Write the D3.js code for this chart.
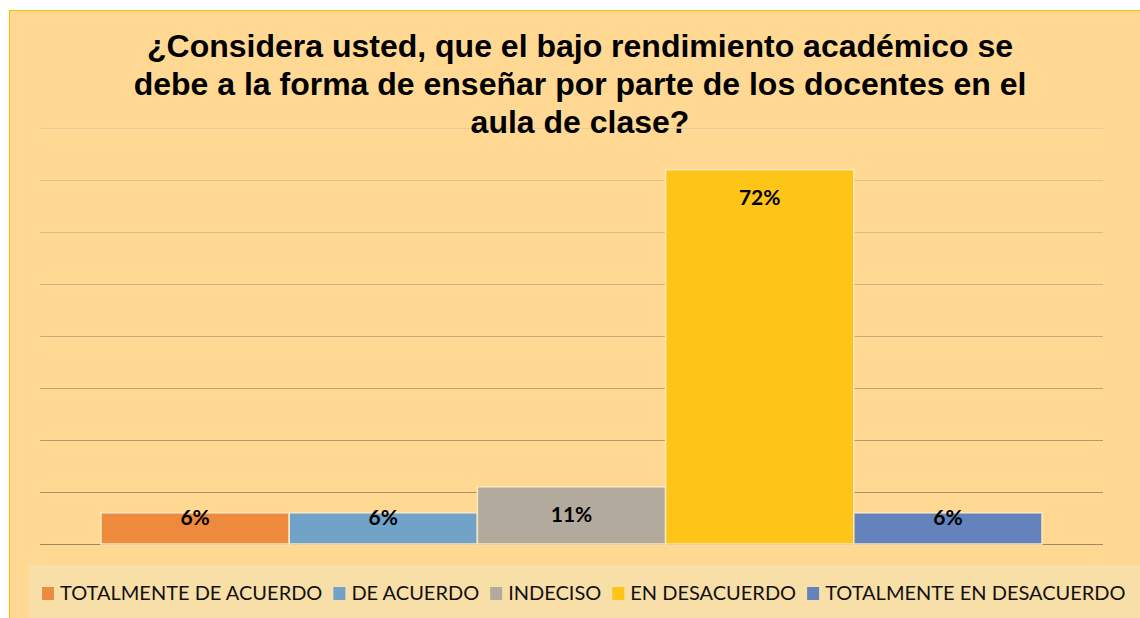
<!DOCTYPE html>
<html>
<head>
<meta charset="utf-8">
<script src="https://cdn.jsdelivr.net/npm/d3@7"></script>
<style>
  body { margin: 0; background: #fff; }
  svg { display: block; }
</style>
</head>
<body>
<svg id="chart" width="1140" height="618"></svg>
<script>
const categories = ['TOTALMENTE DE ACUERDO', 'DE ACUERDO', 'INDECISO', 'EN DESACUERDO', 'TOTALMENTE EN DESACUERDO'];
const values = [6, 6, 11, 72, 6];
const colors = ['#EE8A3E', '#71A3C9', '#B2AA9C', '#FFC418', '#6482BB'];
const yTicks = [0, 10, 20, 30, 40, 50, 60, 70, 80];
const titleLines = [
  '¿Considera usted, que el bajo rendimiento académico se',
  'debe a la forma de enseñar por parte de los docentes en el',
  'aula de clase?'
];

const svg = d3.select('#chart');
const width = 1140, height = 618;
const plot = {left: 40, right: 1103, top: 128, bottom: 544};

// chart area
svg.append('rect')
  .attr('x', 9.5).attr('y', 10.5)
  .attr('width', width).attr('height', height)
  .attr('fill', '#FFD993')
  .attr('stroke', '#FFC000')
  .attr('stroke-width', 1);

const y = d3.scaleLinear()
  .domain([0, 80])
  .range([plot.bottom, plot.top]);

const x = d3.scaleBand()
  .domain(categories)
  .range([plot.left + 61, plot.right - 61])
  .padding(0);

const gridColor = d3.interpolateRgb('#a08a5c', '#e6cc98');

svg.append('g')
  .selectAll('line')
  .data(yTicks)
  .join('line')
    .attr('x1', plot.left).attr('x2', plot.right)
    .attr('y1', d => Math.round(y(d)) + 0.5)
    .attr('y2', d => Math.round(y(d)) + 0.5)
    .attr('stroke', d => gridColor(d / 80))
    .attr('stroke-width', 1);

// title (drawn over the top gridline)
svg.append('g')
  .selectAll('text')
  .data(titleLines)
  .join('text')
    .attr('x', 580)
    .attr('y', (d, i) => 57 + i * 38)
    .attr('text-anchor', 'middle')
    .style('font-family', '"Liberation Sans", Arial, sans-serif')
    .style('font-weight', 'bold')
    .style('font-size', '32px')
    .text(d => d);

svg.append('g')
  .selectAll('rect')
  .data(values)
  .join('rect')
    .attr('x', (d, i) => x(categories[i]))
    .attr('y', d => y(d))
    .attr('width', x.bandwidth())
    .attr('height', d => y(0) - y(d))
    .attr('fill', (d, i) => colors[i])
    .attr('stroke', '#FBE7BE')
    .attr('stroke-width', 1.5);

// labels sit near the inside end, pushed up when the bar is short
svg.append('g')
  .selectAll('text')
  .data(values)
  .join('text')
    .attr('x', (d, i) => x(categories[i]) + x.bandwidth() / 2)
    .attr('y', d => {
      const h = y(0) - y(d);
      return y(d) + Math.min(28, h - 26);
    })
    .attr('dy', '0.35em')
    .attr('text-anchor', 'middle')
    .style('font-family', 'Lato, "Open Sans", sans-serif')
    .style('font-weight', 'bold')
    .style('font-size', '21px')
    .attr('fill', '#000')
    .text(d => d + '%');

// legend
svg.append('rect')
  .attr('x', 29).attr('y', 565)
  .attr('width', width - 29).attr('height', 53)
  .attr('fill', '#F8DFA8');

const legend = svg.append('g')
  .attr('transform', 'translate(0, 593)');

let lx = 42;
categories.forEach((c, i) => {
  const item = legend.append('g').attr('transform', `translate(${lx}, 0)`);
  item.append('rect')
    .attr('x', 0).attr('y', -6)
    .attr('width', 12).attr('height', 13)
    .attr('fill', colors[i]);
  const t = item.append('text')
    .attr('x', 18)
    .attr('dy', '0.35em')
    .style('font-family', 'Lato, "Open Sans", sans-serif')
    .style('font-size', '20px')
    .attr('fill', '#111')
    .text(c);
  lx += 18 + t.node().getComputedTextLength() + 11;
});
</script>
</body>
</html>
